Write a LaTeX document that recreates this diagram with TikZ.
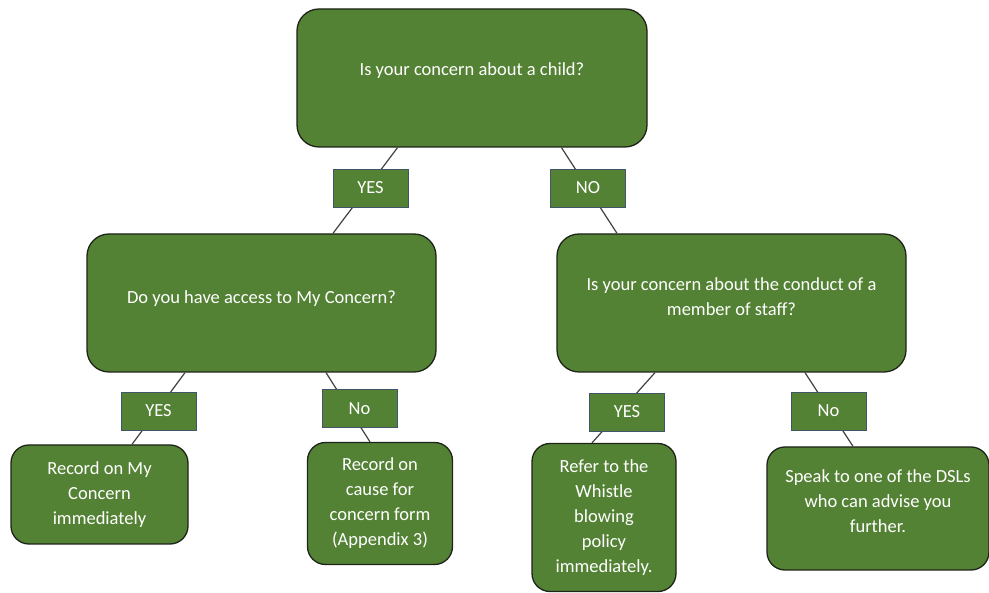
\documentclass[tikz,border=0pt]{standalone}
\usepackage{fontspec}
\setmainfont{Carlito}
\definecolor{leaf}{HTML}{548235}
\definecolor{rim}{HTML}{1E2419}
\definecolor{slate}{HTML}{44546A}
\definecolor{wire}{HTML}{404040}
\newcommand{\boxpad}[1]{\rule[-#1]{0pt}{#1}}

\begin{document}
\begin{tikzpicture}[x=1pt,y=-1pt]
  \tikzset{question/.style = {shape=rectangle,draw=rim,line width=1.3pt,fill=leaf,text=white,
      rounded corners=22pt,align=center,inner sep=0pt,font=\fontsize{18.5}{25}\selectfont}}
  \tikzset{answer/.style = {question,rounded corners=18pt}}
  \tikzset{tag/.style = {shape=rectangle,draw=slate,line width=0.9pt,fill=leaf,text=white,
      minimum width=75pt,minimum height=38pt,inner sep=0pt,font=\fontsize{18.5}{20}\selectfont}}
  \tikzset{link/.style = {draw=wire,line width=1.2pt}}

  \useasboundingbox (0,0) rectangle (989,593);

	\node[question,minimum width=350pt,minimum height=138pt] (child) at (472,78) {Is your concern about a child?\boxpad{18.5pt}};

	\node[question,minimum width=349pt,minimum height=138pt] (access) at (261.5,303) {Do you have access to My Concern?\boxpad{12.5pt}};
	\node[question,minimum width=349pt,minimum height=138pt] (staff) at (731.5,303) {Is your concern about the conduct of a\\member of staff?\boxpad{12.5pt}};

	\node[answer,minimum width=177pt,minimum height=99pt] (myconcern) at (99.5,494.5) {Record on My\\Concern\\immediately};
	\node[answer,minimum width=145pt,minimum height=122pt] (form) at (380,503.5) {Record on\\cause for\\concern form\\(Appendix 3)};
	\node[answer,minimum width=144pt,minimum height=148pt] (whistle) at (604,517.5) {Refer to the\\Whistle\\blowing\\policy\\immediately.};
	\node[answer,minimum width=222pt,minimum height=123pt] (dsl) at (878,508.5) {Speak to one of the DSLs\\who can advise you\\further.\boxpad{14.5pt}};

    \foreach \from/\fx/\to/\tx in {child/-74.5/access/71.5, child/89.5/staff/-114.5,
        access/-76.5/myconcern/32.5, access/64.5/form/-10, staff/-76.5/whistle/-12, staff/73.5/dsl/-25}
    \draw[link] ([xshift=\fx pt]\from.south) -- ([xshift=\tx pt]\to.north);

	\node[tag] (yesA) at (370.5,188) {YES};
	\node[tag] (noA) at (588,188) {NO};
	\node[tag] (yesB) at (158.5,411) {YES};
	\node[tag] (noB) at (359.5,408.5) {No};
	\node[tag] (yesC) at (627,412) {YES};
	\node[tag] (noC) at (828.5,411) {No};

\end{tikzpicture}
\end{document}
